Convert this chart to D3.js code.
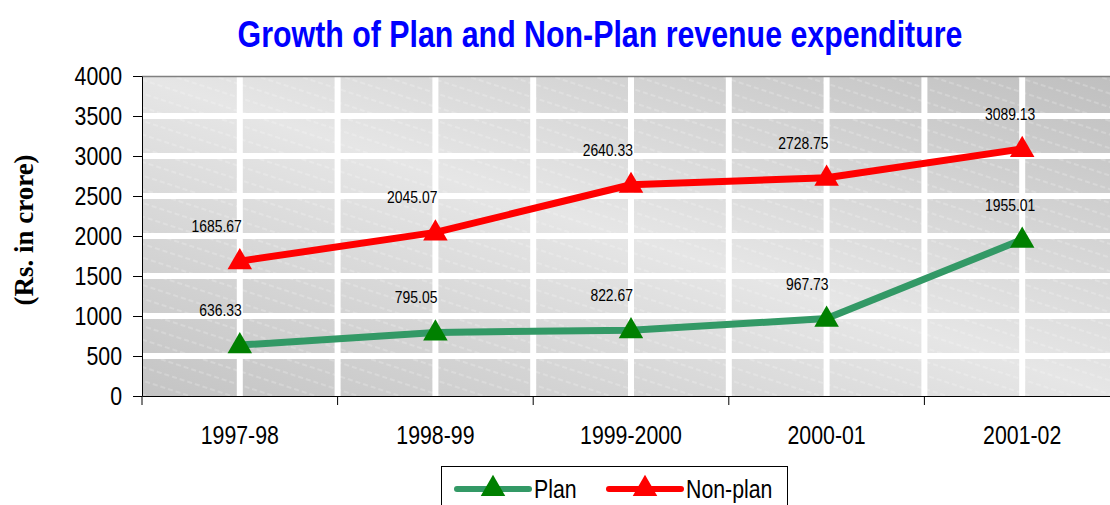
<!DOCTYPE html>
<html>
<head>
<meta charset="utf-8">
<script src="https://cdn.jsdelivr.net/npm/d3@7"></script>
<style>
  body { margin: 0; background: #fff; }
  text { font-family: "Liberation Sans", Arial, sans-serif; }
</style>
</head>
<body>
<script>
var years = ["1997-98", "1998-99", "1999-2000", "2000-01", "2001-02"];
var plan = [636.33, 795.05, 822.67, 967.73, 1955.01];
var nonPlan = [1685.67, 2045.07, 2640.33, 2728.75, 3089.13];
var yTicks = [0, 500, 1000, 1500, 2000, 2500, 3000, 3500, 4000];

var series = [
  { name: "Plan", values: plan, line: "#339966", marker: "#008000" },
  { name: "Non-plan", values: nonPlan, line: "#ff0000", marker: "#ff0000" }
];

var svg = d3.select("body").append("svg")
          .attr("width", 1110)
          .attr("height", 505)

var xScale = d3.scaleBand().domain(years).range([142, 1120])
var yScale = d3.scaleLinear().domain([0, 4000]).range([396, 76])
var cx = function(i) { return xScale(years[i]) + xScale.bandwidth() / 2 }

// no narrow font installed, so squeeze the regular one
var K = 0.82
function narrow(sel) {
  sel.attr("x", function() { return (+d3.select(this).attr("x") || 0) / K })
     .attr("transform", "scale(" + K + ",1)")
}

var defs = svg.append("defs")
var grad = defs.append("linearGradient").attr("id", "bg")
          .attr("x1", 0).attr("y1", 1).attr("x2", 1).attr("y2", 0)
grad.append("stop").attr("offset", 0).attr("stop-color", "#c4c4c4")
grad.append("stop").attr("offset", 0.5).attr("stop-color", "#e6e6e6")
grad.append("stop").attr("offset", 1).attr("stop-color", "#bfbfbf")

var pat = defs.append("pattern").attr("id", "hatch")
          .attr("patternUnits", "userSpaceOnUse")
          .attr("width", 40).attr("height", 13)
          .attr("patternTransform", "rotate(18)")
pat.append("line").attr("x1", 0).attr("x2", 40).attr("y1", 6).attr("y2", 6)
   .attr("stroke", "#fff").attr("stroke-opacity", 0.4)
   .attr("stroke-width", 1).attr("stroke-dasharray", "5,3")

var plotW = 1120 - 142, plotH = 396 - 76
svg.append("rect").attr("x", 142).attr("y", 76).attr("width", plotW).attr("height", plotH)
   .attr("fill", "url(#bg)")
svg.append("rect").attr("x", 142).attr("y", 76).attr("width", plotW).attr("height", plotH)
   .attr("fill", "url(#hatch)")

// white grid
svg.append("g").selectAll("line")
  .data(yTicks.filter(function(d) { return d > 0 && d < 4000 }))
  .enter().append("line")
  .attr("x1", 142).attr("x2", 1120)
  .attr("y1", function(d) { return yScale(d) }).attr("y2", function(d) { return yScale(d) })
  .attr("stroke", "#fff").attr("stroke-width", 6)

var vx = [];
years.forEach(function(y, i) {
  if (i > 0) vx.push(xScale(y));
  vx.push(cx(i));
})
svg.append("g").selectAll("line")
  .data(vx)
  .enter().append("line")
  .attr("x1", function(d) { return d }).attr("x2", function(d) { return d })
  .attr("y1", 76).attr("y2", 396)
  .attr("stroke", "#fff").attr("stroke-width", 6)

// top border
svg.append("line").attr("x1", 142).attr("x2", 1120).attr("y1", 76.5).attr("y2", 76.5)
   .attr("stroke", "#808080").attr("stroke-width", 1.5)

// axes
var yAxis = svg.append("g").attr("transform", "translate(142,0)")
   .call(d3.axisLeft(yScale).tickValues(yTicks).tickFormat(d3.format("d"))
         .tickSize(9).tickPadding(11).tickSizeOuter(0))
yAxis.selectAll("text").attr("font-size", 26).attr("fill", "#000").style("font-family", null)
   .call(narrow)
yAxis.selectAll("line, path").attr("stroke", "#000")

var xAxis = svg.append("g").attr("transform", "translate(0,396)")
   .call(d3.axisBottom(xScale).tickSize(0).tickPadding(30).tickSizeOuter(0))
xAxis.selectAll("text").attr("font-size", 26).attr("fill", "#000").style("font-family", null)
   .call(narrow)
xAxis.select("path").attr("stroke", "#000")
xAxis.append("g").selectAll("line")
   .data(years)
   .enter().append("line")
   .attr("x1", function(d) { return xScale(d) }).attr("x2", function(d) { return xScale(d) })
   .attr("y1", 0).attr("y2", 9)
   .attr("stroke", "#000")

// lines and markers
var lineFn = d3.line()
   .x(function(d, i) { return cx(i) })
   .y(function(d) { return yScale(d) })

var tri = d3.symbol().type(d3.symbolTriangle).size(260)

series.forEach(function(s) {
  svg.append("path")
     .attr("d", lineFn(s.values))
     .attr("fill", "none")
     .attr("stroke", s.line)
     .attr("stroke-width", 7)
     .attr("stroke-linejoin", "round")

  svg.append("g").selectAll("path")
     .data(s.values)
     .enter().append("path")
     .attr("d", tri)
     .attr("transform", function(d, i) { return "translate(" + cx(i) + "," + (yScale(d) + 1) + ")" })
     .attr("fill", s.marker)

  svg.append("g").selectAll("text")
     .data(s.values)
     .enter().append("text")
     .attr("x", function(d, i) { return i == years.length - 1 ? cx(i) - 12 : cx(i) + 2 })
     .attr("y", function(d) { return yScale(d) - 29 })
     .attr("text-anchor", function(d, i) { return i == years.length - 1 ? "middle" : "end" })
     .attr("font-size", 17)
     .attr("fill", "#000")
     .text(function(d) { return d.toFixed(2) })
     .call(narrow)
})

// title
svg.append("text")
   .attr("x", 600).attr("y", 47)
   .attr("text-anchor", "middle")
   .attr("font-size", 37)
   .attr("font-weight", "bold")
   .attr("fill", "#0000ff")
   .text("Growth of Plan and Non-Plan revenue expenditure")
   .call(narrow)

svg.append("text")
   .attr("transform", "translate(33,230) rotate(-90)")
   .attr("text-anchor", "middle")
   .attr("font-size", 27)
   .attr("font-weight", "bold")
   .style("font-family", "'Liberation Serif', 'Times New Roman', serif")
   .text("(Rs. in crore)")

// legend
var legend = svg.append("g")
legend.append("rect").attr("x", 441.5).attr("y", 466.5).attr("width", 346).attr("height", 60)
   .attr("fill", "#fff").attr("stroke", "#000")

var legX = [457, 609]
series.forEach(function(s, i) {
  var g = legend.append("g").attr("transform", "translate(" + legX[i] + ",489)")
  g.append("line").attr("x1", 0).attr("x2", 72).attr("y1", 0).attr("y2", 0)
   .attr("stroke", s.line).attr("stroke-width", 6).attr("stroke-linecap", "round")
  g.append("path").attr("d", tri).attr("transform", "translate(36,0)").attr("fill", s.marker)
  g.append("text").attr("x", 77).attr("y", 9).attr("font-size", 26).attr("fill", "#000").text(s.name)
   .call(narrow)
})
</script>
</body>
</html>
